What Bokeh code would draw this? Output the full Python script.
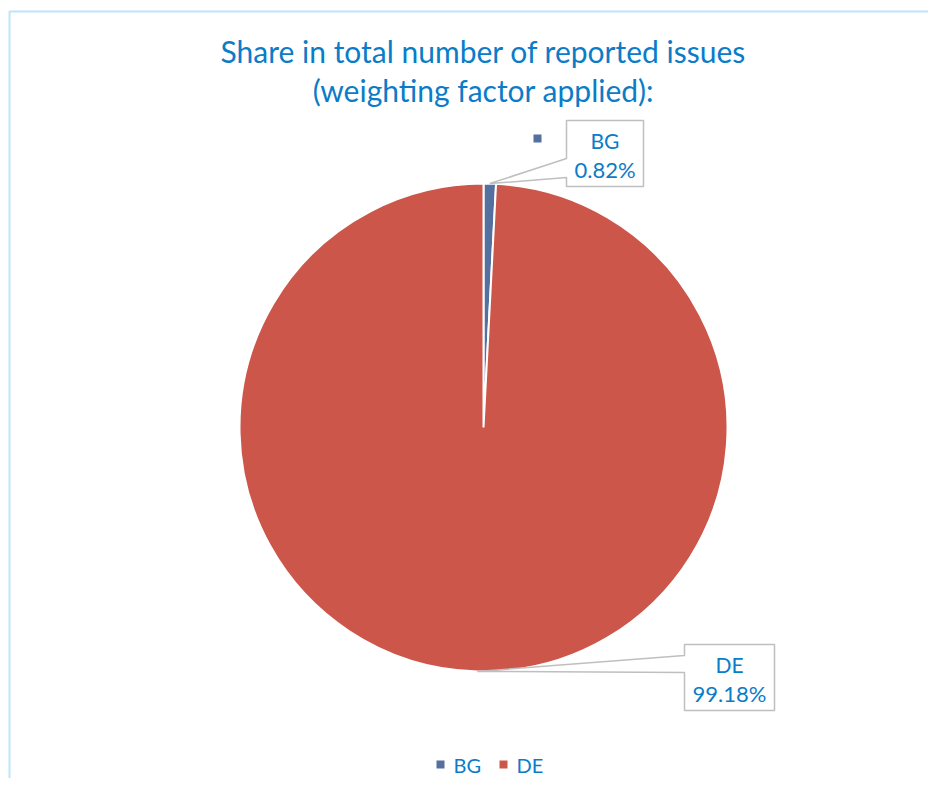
import math
from bokeh.plotting import figure
from bokeh.models import Range1d, ColumnDataSource
from bokeh.core.properties import value
from bokeh.embed import file_html
from bokeh.resources import INLINE

# ---- data ----
categories = ["BG", "DE"]
shares = [0.82, 99.18]
colors = ["#54709E", "#CD564B"]
title_lines = ["Share in total number of reported issues", "(weighting factor applied):"]

W, H = 928, 778
FONT = "Lato"
BLUE = "#0A7CC8"

def X(px):  # reference px -> data x
    return px

def Y(py):  # reference px -> data y
    return H - py

p = figure(width=W, height=H, output_backend="svg", toolbar_location=None,
           x_range=Range1d(0, W), y_range=Range1d(0, H), min_border=0,
           outline_line_color=None)
p.axis.visible = False
p.grid.visible = False
p.background_fill_color = "white"

# frame (only top and left visible in reference)
p.line([X(9), X(9), X(944)], [Y(800), Y(11), Y(11)], line_color="#BDE5FB", line_width=2)

# ---- pie ----
cx, cy, r = X(483), Y(427), 244
total = sum(shares)
starts, ends, mids = [], [], []
acc = 0.0
for s in shares:
    a0 = math.pi / 2 - 2 * math.pi * acc / total
    a1 = math.pi / 2 - 2 * math.pi * (acc + s) / total
    starts.append(a0)
    ends.append(a1)
    mids.append((a0 + a1) / 2)
    acc += s

src = ColumnDataSource(dict(x=[cx] * len(shares), y=[cy] * len(shares), start=starts,
                            end=ends, color=colors, cat=categories))
p.wedge(x="x", y="y", radius=r, start_angle="start", end_angle="end", direction="clock",
        fill_color="color", line_color="white", line_width=2, source=src)

# ---- callout labels ----
boxes = [  # left, right, top, bottom in reference px; pointer attach y's
    (566, 643, 120, 186, 158, 177),
    (684, 774, 644, 710, 655, 672),
]
for cat, s, m, (l, rt, t, b, p1, p2) in zip(categories, shares, mids, boxes):
    ax = cx + r * math.cos(m)
    ay = cy + r * math.sin(m)
    xs = [X(l), X(rt), X(rt), X(l), X(l), ax, X(l)]
    ys = [Y(t), Y(t), Y(b), Y(b), Y(p2), ay, Y(p1)]
    p.patch(xs, ys, fill_color="white", line_color="#BFBFBF", line_width=1.5)
    xc = X((l + rt) / 2)
    p.text([xc], [Y(t + 20)], text=[cat], text_font=value(FONT), text_font_size="21px",
           text_color=BLUE, text_align="center", text_baseline="middle")
    p.text([xc], [Y(t + 49)], text=[f"{s:.2f}%"], text_font=value(FONT), text_font_size="22px",
           text_color=BLUE, text_align="center", text_baseline="middle")

# marker near BG label (as in the reference)
p.scatter([X(537)], [Y(138)], marker="square", size=8, fill_color=colors[0], line_color=None)

# ---- title ----
for i, line in enumerate(title_lines):
    p.text([X(483)], [Y(50 + 39 * i)], text=[line], text_font=value(FONT), text_font_size="30px",
           text_color=BLUE, text_align="center", text_baseline="middle")

# ---- legend ----
leg_sq = [440, 503]
for cat, col, lx in zip(categories, colors, leg_sq):
    p.scatter([X(lx)], [Y(764)], marker="square", size=8, fill_color=col, line_color=None)
    p.text([X(lx + 13)], [Y(764)], text=[cat], text_font=value(FONT), text_font_size="20px",
           text_color=BLUE, text_align="left", text_baseline="middle")

open("out.html", "w").write(file_html(p, INLINE))
